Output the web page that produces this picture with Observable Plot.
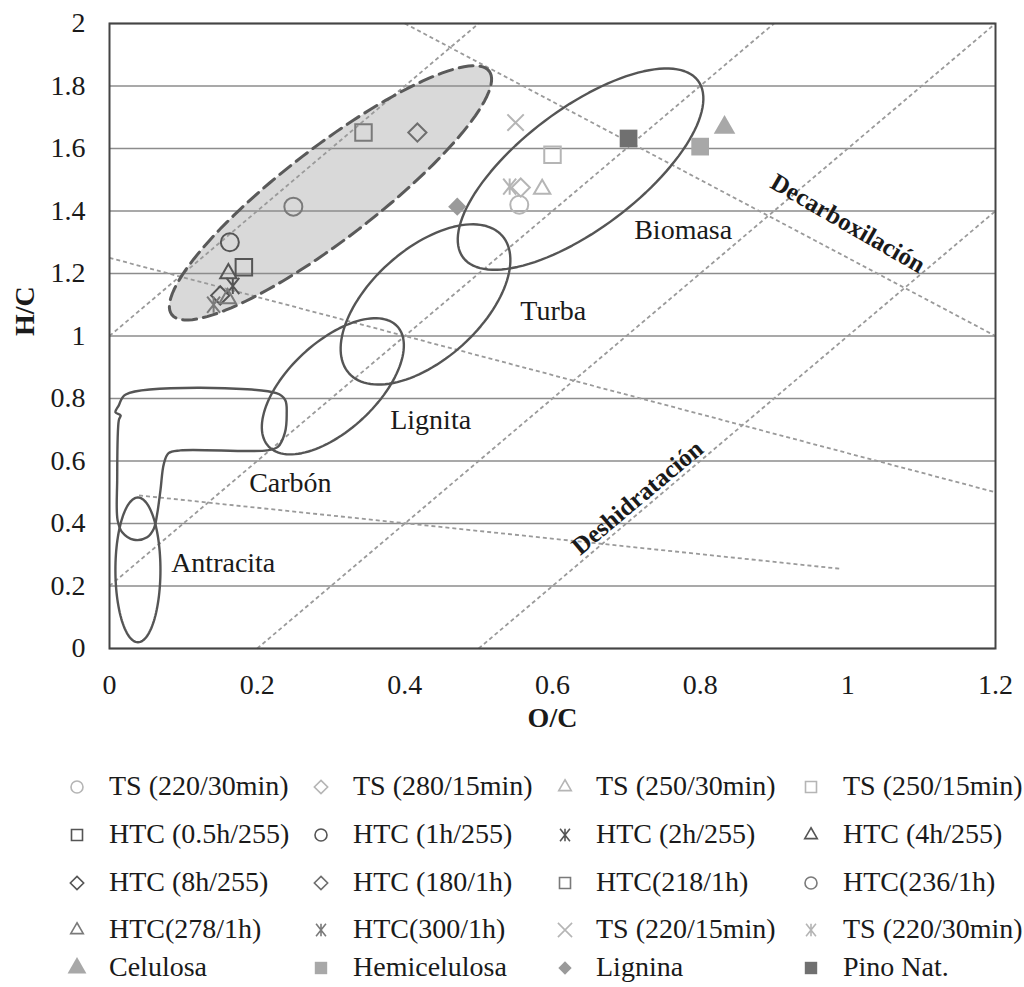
<!DOCTYPE html>
<html><head><meta charset="utf-8">
<script src="https://cdn.jsdelivr.net/npm/d3@7"></script>
<script src="https://cdn.jsdelivr.net/npm/@observablehq/plot@0.6"></script>
<style>
body{margin:0;background:#fff;}
#wrap{position:relative;width:1024px;height:987px;font-family:"Liberation Serif","Times New Roman",serif;overflow:hidden;}
#legend{position:absolute;left:0;top:0;width:1024px;height:987px;pointer-events:none;}
.item{position:absolute;font-size:28px;color:#1a1a1a;white-space:nowrap;line-height:1;}
</style></head><body><div id="wrap"><div id="chart"></div><div id="legend"></div></div>
<script>
// ---- axis ticks ----
const xTicks = [0, 0.2, 0.4, 0.6, 0.8, 1, 1.2];
const yTicks = [0, 0.2, 0.4, 0.6, 0.8, 1, 1.2, 1.4, 1.6, 1.8, 2];

// ---- series (legend order) ----
const seriesNames = ["TS (220/30min)", "TS (280/15min)", "TS (250/30min)", "TS (250/15min)",
  "HTC (0.5h/255)", "HTC (1h/255)", "HTC (2h/255)", "HTC (4h/255)",
  "HTC (8h/255)", "HTC (180/1h)", "HTC(218/1h)", "HTC(236/1h)",
  "HTC(278/1h)", "HTC(300/1h)", "TS (220/15min)", "TS (220/30min)",
  "Celulosa", "Hemicelulosa", "Lignina", "Pino Nat."];
const seriesOC = [0.555, 0.557, 0.586, 0.600,
  0.182, 0.163, 0.167, 0.161,
  0.150, 0.417, 0.344, 0.249,
  0.160, 0.141, 0.550, 0.542,
  0.833, 0.800, 0.471, 0.703];
const seriesHC = [1.42, 1.475, 1.47, 1.58,
  1.22, 1.30, 1.16, 1.20,
  1.13, 1.651, 1.651, 1.414,
  1.12, 1.10, 1.683, 1.478,
  1.667, 1.606, 1.414, 1.632];
const seriesSymbols = ["circle", "diamond2", "triangle2", "square2",
  "square2", "circle", "xstar", "triangle2",
  "diamond2", "diamond2", "square2", "circle",
  "triangle2", "xstar", "times", "xstar",
  "triangle", "square", "diamond2", "square"];
const seriesColors = ["#b5b5b5", "#b5b5b5", "#b5b5b5", "#b5b5b5",
  "#555555", "#555555", "#555555", "#555555",
  "#555555", "#6e6e6e", "#7a7a7a", "#7a7a7a",
  "#7a7a7a", "#7a7a7a", "#b5b5b5", "#b5b5b5",
  "#a8a8a8", "#a8a8a8", "#9a9a9a", "#707070"];
const seriesFilled = [false, false, false, false, false, false, false, false, false, false,
  false, false, false, false, false, false, true, true, true, true];

// ---- coal-rank zones (ellipses: centre + two conjugate semi-axis vectors, data units) ----
const zoneNames = ["Antracita", "Lignita", "Turba", "Biomasa", "HTC"];
const zoneCenterOC = [0.0385, 0.3025, 0.428, 0.638, 0.2993];
const zoneCenterHC = [0.2515, 0.839, 1.101, 1.534, 1.458];
const zoneMajorOC = [0, 0.0872, 0.1036, 0.1590, 0.2149];
const zoneMajorHC = [0.2315, 0.192, 0.2205, 0.2832, 0.3897];
const zoneMinorOC = [0.0305, 0.0406, 0.0498, 0.0489, 0.0379];
const zoneMinorHC = [0, -0.103, -0.1309, -0.1533, -0.1168];

// ---- Carbón outline ----
const carbonOC = [0.022, 0.0126, 0.008, 0.015, 0.0126, 0.0104, 0.011, 0.0172, 0.033, 0.051, 0.060, 0.0646, 0.069, 0.0736, 0.080, 0.096, 0.2136, 0.228, 0.2375, 0.240, 0.238, 0.226];
const carbonHC = [0.813, 0.778, 0.756, 0.746, 0.730, 0.538, 0.41, 0.372, 0.348, 0.356, 0.383, 0.431, 0.506, 0.591, 0.625, 0.634, 0.634, 0.645, 0.69, 0.75, 0.795, 0.817];

// ---- reaction lines ----
const dehydX1 = [0, 0, 0.2, 0.5];
const dehydY1 = [1.0, 0.2, 0, 0];
const dehydX2 = [0.5, 0.9, 1.2, 1.2];
const dehydY2 = [2.0, 2.0, 2.0, 1.4];
const decarbX1 = [0.4, 0, 0.04];
const decarbY1 = [2.0, 1.25, 0.49];
const decarbX2 = [1.2, 1.2, 0.99];
const decarbY2 = [1.0, 0.5, 0.255];

// ---- labels ----
const regionNames = ["Biomasa", "Turba", "Lignita", "Carbón", "Antracita"];
const regionOC = [0.777, 0.601, 0.435, 0.245, 0.154];
const regionHC = [1.338, 1.08, 0.73, 0.528, 0.275];
const processNames = ["Decarboxilación", "Deshidratación"];
const processOC = [1.0, 0.715];
const processHC = [1.36, 0.483];
const processAngle = [30, -40];

// ---------- build ----------
const fmt = d => String(+d.toFixed(1));
function ellipsePts(i, n = 120) {
  return d3.range(n).map(k => {
    const t = 2 * Math.PI * k / n;
    return {x: zoneCenterOC[i] + zoneMajorOC[i] * Math.cos(t) + zoneMinorOC[i] * Math.sin(t),
            y: zoneCenterHC[i] + zoneMajorHC[i] * Math.cos(t) + zoneMinorHC[i] * Math.sin(t)};
  });
}
const htcZone = ellipsePts(4);
const rankZones = [0, 1, 2, 3].flatMap(i => ellipsePts(i).map(p => ({...p, z: zoneNames[i]})));
const carbon = carbonOC.map((x, i) => ({x, y: carbonHC[i]}));
const dehyd = dehydX1.map((x, i) => ({x1: x, y1: dehydY1[i], x2: dehydX2[i], y2: dehydY2[i]}));
const decarb = decarbX1.map((x, i) => ({x1: x, y1: decarbY1[i], x2: decarbX2[i], y2: decarbY2[i]}));

// X with a vertical bar
const xstar = {draw(ctx, size) {
  const r = Math.sqrt(size / Math.PI) * 0.95;
  ctx.moveTo(-r * 0.8, -r); ctx.lineTo(r * 0.8, r);
  ctx.moveTo(r * 0.8, -r); ctx.lineTo(-r * 0.8, r);
  ctx.moveTo(0, -r); ctx.lineTo(0, r);
}};
const symObj = {circle: d3.symbolCircle, diamond2: d3.symbolDiamond2, triangle2: d3.symbolTriangle2, square2: d3.symbolSquare2,
  xstar, times: d3.symbolTimes, triangle: d3.symbolTriangle, square: d3.symbolSquare};
const symR = {circle: 9, diamond2: 8.2, triangle2: 7.8, square2: 10.5, xstar: 8.5, times: 7.5, triangle: 8, square: 10};

const dotMarks = seriesNames.map((name, i) => {
  const s = seriesSymbols[i];
  const opts = {x: d => d.x, y: d => d.y, symbol: symObj[s], r: symR[s]};
  if (seriesFilled[i]) { opts.fill = seriesColors[i]; opts.stroke = "none"; }
  else { opts.fill = "none"; opts.stroke = seriesColors[i]; opts.strokeWidth = 2; }
  return Plot.dot([{x: seriesOC[i], y: seriesHC[i]}], opts);
});

const regionData = regionNames.map((t, i) => ({t, x: regionOC[i], y: regionHC[i]}));
const processData = processNames.map((t, i) => ({t, x: processOC[i], y: processHC[i], a: processAngle[i]}));

const chart = Plot.plot({
  width: 1024, height: 745,
  marginLeft: 109, marginRight: 29, marginTop: 23, marginBottom: 97,
  style: {fontFamily: '"Liberation Serif","Times New Roman",serif', fontSize: "28px", color: "#222", background: "#fff"},
  x: {domain: [0, 1.2], label: null},
  y: {domain: [0, 2], label: null},
  marks: [
    Plot.line(htcZone, {x: "x", y: "y", fill: "#d9d9d9", stroke: "none", curve: "linear-closed"}),
    Plot.ruleY(yTicks, {stroke: "#8c8c8c", strokeWidth: 1.6}),
    Plot.link(dehyd, {x1: "x1", y1: "y1", x2: "x2", y2: "y2", stroke: "#9a9a9a", strokeWidth: 1.8, strokeDasharray: "4,3"}),
    Plot.link(decarb, {x1: "x1", y1: "y1", x2: "x2", y2: "y2", stroke: "#9a9a9a", strokeWidth: 1.8, strokeDasharray: "4,3"}),
    Plot.line(htcZone, {x: "x", y: "y", fill: "none", stroke: "#5a5a5a", strokeWidth: 3, strokeDasharray: "14,7", curve: "linear-closed"}),
    Plot.line(rankZones, {x: "x", y: "y", z: "z", stroke: "#555", strokeWidth: 2.4, curve: "linear-closed"}),
    Plot.line(carbon, {x: "x", y: "y", stroke: "#555", strokeWidth: 2.4, curve: "catmull-rom-closed"}),
    ...dotMarks,
    Plot.text(regionData, {x: "x", y: "y", text: "t", fontSize: 28, fill: "#1a1a1a", lineAnchor: "middle"}),
    Plot.text(processData, {x: "x", y: "y", text: "t", rotate: "a", fontSize: 25, fontWeight: "bold", fill: "#1a1a1a", lineAnchor: "middle"}),
    Plot.frame({stroke: "#444", strokeWidth: 2}),
    Plot.axisX(xTicks, {tickSize: 0, tickPadding: 26, tickFormat: fmt, fontSize: 28, fill: "#1a1a1a", label: null}),
    Plot.axisY(yTicks, {tickSize: 0, tickPadding: 24, tickFormat: fmt, fontSize: 28, fill: "#1a1a1a", label: null}),
    Plot.text(["O/C"], {frameAnchor: "bottom", dy: 70, fontSize: 28, fontWeight: "bold", fill: "#1a1a1a", lineAnchor: "middle"}),
    Plot.text(["H/C"], {frameAnchor: "left", dx: -84, rotate: -90, fontSize: 28, fontWeight: "bold", fill: "#1a1a1a", lineAnchor: "middle"})
  ]
});
document.getElementById("chart").appendChild(chart);

// ---------- legend ----------
const legR = {circle: 6, diamond2: 6, triangle2: 6, square2: 7, xstar: 6.5, times: 6.5, triangle: 7, square: 7};
const colSym = [77, 321, 565, 811];
const colText = [109, 353, 596, 843];
const rowY = [787, 835, 883, 930, 968];
const leg = d3.select("#legend");
seriesNames.forEach((name, i) => {
  const r = Math.floor(i / 4), c = i % 4;
  const s = seriesSymbols[i];
  const path = d3.symbol(symObj[s], Math.PI * legR[s] * legR[s])();
  const svg = leg.append("svg").attr("width", 24).attr("height", 24)
    .style("position", "absolute").style("left", (colSym[c] - 12) + "px").style("top", (rowY[r] - 12) + "px");
  svg.append("path").attr("d", path).attr("transform", "translate(12,12)")
    .attr("fill", seriesFilled[i] ? seriesColors[i] : "none")
    .attr("stroke", seriesFilled[i] ? "none" : seriesColors[i]).attr("stroke-width", 1.6);
  leg.append("div").attr("class", "item").style("left", colText[c] + "px").style("top", (rowY[r] - 15) + "px").text(name);
});
</script></body></html>
